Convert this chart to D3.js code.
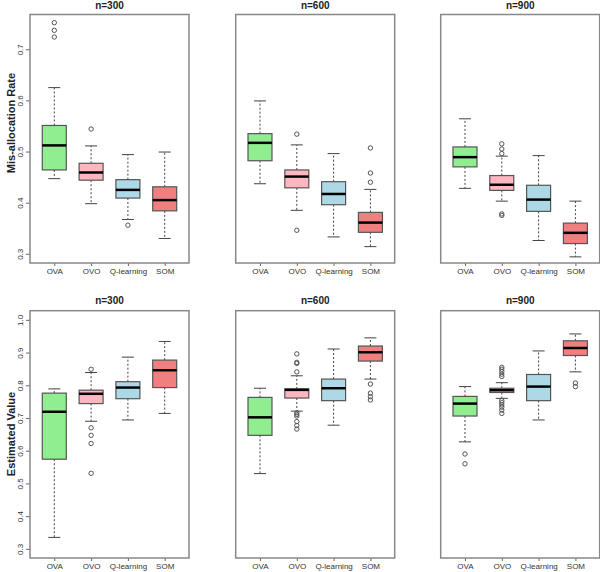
<!DOCTYPE html>
<html>
<head>
<meta charset="utf-8">
<script src="https://cdn.jsdelivr.net/npm/d3@7"></script>
<style>
  html, body { margin: 0; padding: 0; background: #fff; }
  svg { display: block; font-family: "Liberation Sans", Arial, sans-serif; }
</style>
</head>
<body>
<svg id="chart" width="600" height="572"></svg>
<script>
// ---------- data ----------
const categories = ["OVA", "OVO", "Q-learning", "SOM"];
const sampleSizes = ["n=300", "n=600", "n=900"];
const colors = ["#90EE90", "#FFB6C1", "#ADD8E6", "#F08080"];
const misTicks = [0.3, 0.4, 0.5, 0.6, 0.7];
const estTicks = [0.3, 0.4, 0.5, 0.6, 0.7, 0.8, 0.9, 1.0];
const misLimits = [0.3, 0.75];
const estLimits = [0.3, 1.0];

// five-number summaries: [lower whisker, Q1, median, Q3, upper whisker]
const mis300Stats = [[0.447, 0.464, 0.512, 0.551, 0.625], [0.398, 0.444, 0.459, 0.477, 0.511], [0.367, 0.409, 0.425, 0.445, 0.494], [0.330, 0.384, 0.405, 0.431, 0.499]];
const mis300Out = [[0.724, 0.737, 0.752], [0.544], [0.356], []];
const mis600Stats = [[0.437, 0.482, 0.517, 0.535, 0.599], [0.385, 0.429, 0.451, 0.464, 0.513], [0.333, 0.396, 0.417, 0.441, 0.496], [0.314, 0.342, 0.361, 0.381, 0.426]];
const mis600Out = [[], [0.534, 0.346], [], [0.507, 0.458, 0.440]];
const mis900Stats = [[0.428, 0.470, 0.489, 0.509, 0.564], [0.403, 0.424, 0.435, 0.453, 0.491], [0.326, 0.383, 0.406, 0.434, 0.492], [0.294, 0.320, 0.341, 0.360, 0.403]];
const mis900Out = [[], [0.515, 0.505, 0.496, 0.378, 0.375], [], []];

const est300Stats = [[0.335, 0.574, 0.719, 0.776, 0.789], [0.690, 0.744, 0.774, 0.785, 0.839], [0.694, 0.759, 0.793, 0.811, 0.886], [0.714, 0.793, 0.846, 0.877, 0.934]];
const est300Out = [[], [0.849, 0.670, 0.647, 0.622, 0.531], [], []];
const est600Stats = [[0.530, 0.647, 0.702, 0.763, 0.791], [0.721, 0.761, 0.786, 0.789, 0.829], [0.678, 0.753, 0.791, 0.819, 0.911], [0.819, 0.874, 0.901, 0.920, 0.945]];
const est600Out = [[], [0.896, 0.870, 0.867, 0.841, 0.716, 0.711, 0.706, 0.689, 0.677, 0.666], [], [0.804, 0.776, 0.765, 0.755]];
const est900Stats = [[0.627, 0.706, 0.744, 0.766, 0.796], [0.760, 0.778, 0.785, 0.791, 0.808], [0.694, 0.753, 0.796, 0.833, 0.905], [0.841, 0.891, 0.914, 0.936, 0.957]];
const est900Out = [[0.590, 0.560], [0.855, 0.849, 0.842, 0.834, 0.827, 0.753, 0.747, 0.740, 0.733, 0.724, 0.714], [], [0.807, 0.796]];

// ---------- layout ----------
const svg = d3.select("#chart");
const panelLefts = [30, 235.7, 440.7];
const panelWidth = 159;
const rows = [
  { top: 14.5, bottom: 263, limits: misLimits, ticks: misTicks, title: "Mis-allocation Rate", titleY: 123, titleRowY: 8.5,
    stats: [mis300Stats, mis600Stats, mis900Stats], outs: [mis300Out, mis600Out, mis900Out] },
  { top: 310.7, bottom: 558, limits: estLimits, ticks: estTicks, title: "Estimated Value", titleY: 434, titleRowY: 304,
    stats: [est300Stats, est600Stats, est900Stats], outs: [est300Out, est600Out, est900Out] }
];

const boxW = 24, capW = 12;
const textCol = "#333";

rows.forEach((row, ri) => {
  const span = row.limits[1] - row.limits[0];
  const y = d3.scaleLinear()
    .domain([row.limits[0] - 0.04 * span, row.limits[1] + 0.04 * span])
    .range([row.bottom, row.top]);

  // row y-axis title
  svg.append("text")
    .attr("transform", `translate(10.5,${row.titleY}) rotate(-90)`)
    .attr("text-anchor", "middle").attr("dominant-baseline", "central")
    .attr("font-size", 11).attr("font-weight", "bold").attr("fill", "#222")
    .text(row.title);

  sampleSizes.forEach((title, pi) => {
    const left = panelLefts[pi];
    const x = d3.scaleLinear().domain([0.34, 4.66]).range([left, left + panelWidth]);
    const g = svg.append("g");

    // title
    g.append("text").attr("x", left + panelWidth / 2).attr("y", row.titleRowY)
      .attr("text-anchor", "middle").attr("font-size", 10).attr("font-weight", "bold").attr("fill", "#222")
      .text(title);

    // x axis
    const xAxis = d3.axisBottom(x).tickValues([1, 2, 3, 4]).tickFormat(d => categories[d - 1]).tickSize(3).tickPadding(2);
    const xa = g.append("g").attr("transform", `translate(0,${row.bottom})`).call(xAxis);
    xa.select(".domain").remove();
    xa.selectAll("line").attr("stroke", "#666");
    xa.selectAll("text").attr("font-size", 8).attr("fill", textCol).attr("font-family", "'Liberation Sans', Arial, sans-serif");

    // y axis (left panels only)
    if (pi === 0) {
      const yAxis = d3.axisLeft(y).tickValues(row.ticks).tickFormat(d3.format(".1f")).tickSize(4).tickPadding(2);
      const ya = g.append("g").attr("transform", `translate(${left},0)`).call(yAxis);
      ya.select(".domain").remove();
      ya.selectAll("line").attr("stroke", "#666");
      ya.selectAll("text")
        .attr("font-size", 8).attr("fill", textCol).attr("font-family", "'Liberation Sans', Arial, sans-serif")
        .attr("x", null).attr("dy", null)
        .attr("text-anchor", "middle")
        .attr("transform", "translate(-7,0) rotate(-90)");
    }

    const stats = row.stats[pi], outs = row.outs[pi];
    stats.forEach((s, ci) => {
      const cx = x(ci + 1);
      const [lo, q1, med, q3, hi] = s;
      // whiskers
      g.append("line").attr("x1", cx).attr("x2", cx).attr("y1", y(q3)).attr("y2", y(hi))
        .attr("stroke", "#444").attr("stroke-dasharray", "2,2").attr("stroke-width", 1);
      g.append("line").attr("x1", cx).attr("x2", cx).attr("y1", y(q1)).attr("y2", y(lo))
        .attr("stroke", "#444").attr("stroke-dasharray", "2,2").attr("stroke-width", 1);
      // caps
      [lo, hi].forEach(v => g.append("line").attr("x1", cx - capW / 2).attr("x2", cx + capW / 2)
        .attr("y1", y(v)).attr("y2", y(v)).attr("stroke", "#444").attr("stroke-width", 1));
      // box
      g.append("rect").attr("x", cx - boxW / 2).attr("width", boxW)
        .attr("y", y(q3)).attr("height", y(q1) - y(q3))
        .attr("fill", colors[ci]).attr("stroke", "#555").attr("stroke-width", 1.2);
      // median
      g.append("line").attr("x1", cx - boxW / 2).attr("x2", cx + boxW / 2)
        .attr("y1", y(med)).attr("y2", y(med)).attr("stroke", "#000").attr("stroke-width", 2.5);
      // outliers
      outs[ci].forEach(v => g.append("circle").attr("cx", cx).attr("cy", y(v)).attr("r", 2.2)
        .attr("fill", "none").attr("stroke", "#555").attr("stroke-width", 1));
    });

    // frame
    g.append("rect").attr("x", left).attr("y", row.top).attr("width", panelWidth).attr("height", row.bottom - row.top)
      .attr("fill", "none").attr("stroke", "#888").attr("stroke-width", 1.5);
  });
});
</script>
</body>
</html>
